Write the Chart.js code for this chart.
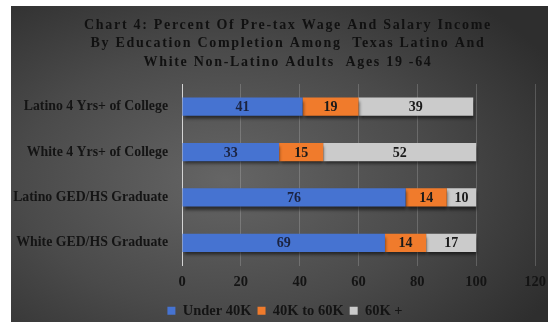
<!DOCTYPE html>
<html>
<head>
<meta charset="utf-8">
<script src="https://cdn.jsdelivr.net/npm/chart.js@4"></script>
<style>
    body { margin: 0; background: #fff; }
    #wrap {
        position: absolute; left: 11px; top: 6px; width: 537px; height: 316px;
        background: radial-gradient(ellipse 70% 75% at 40% 55%, #656565 0%, #4a4a4a 55%, #2e2e2e 100%);
    }
</style>
</head>
<body>
<div id="wrap"><canvas id="incomeChart" width="537" height="316"></canvas></div>
<script>
const categories = ['Latino 4 Yrs+ of College', 'White 4 Yrs+ of College', 'Latino GED/HS Graduate', 'White GED/HS Graduate'];
const under40k = [41, 33, 76, 69];
const from40to60k = [19, 15, 14, 14];
const over60k = [39, 52, 10, 17];
const titleLines = [
    'Chart 4: Percent Of Pre-tax Wage And Salary Income',
    'By Education Completion Among  Texas Latino And',
    'White Non-Latino Adults  Ages 19 -64'
];
const serif = '"Liberation Serif", "Times New Roman", serif';

// bars have a soft drop shadow in the original
const barShadow = {
    id: 'barShadow',
    beforeDatasetsDraw(chart) {
        const ctx = chart.ctx;
        ctx.save();
        ctx.shadowColor = 'rgba(0,0,0,0.55)';
        ctx.shadowBlur = 3;
        ctx.shadowOffsetY = 3;
        ctx.shadowOffsetX = 1;
    },
    afterDatasetsDraw(chart) {
        chart.ctx.restore();
    }
};

// values printed in the middle of each segment
const segmentLabels = {
    id: 'segmentLabels',
    afterDatasetsDraw(chart) {
        const ctx = chart.ctx;
        ctx.save();
        ctx.font = 'bold 14px ' + serif;
        ctx.textAlign = 'center';
        ctx.textBaseline = 'middle';
        chart.data.datasets.forEach((ds, i) => {
            chart.getDatasetMeta(i).data.forEach((bar, j) => {
                ctx.fillStyle = i === 0 ? '#1b2340' : '#1a1a1a';
                ctx.fillText(ds.data[j], (bar.x + bar.base) / 2, bar.y + 1);
            });
        });
        ctx.restore();
    }
};

// spaced-out title, drawn by hand
const spacedTitle = {
    id: 'spacedTitle',
    afterDraw(chart) {
        const ctx = chart.ctx;
        ctx.save();
        ctx.font = 'bold 14px ' + serif;
        ctx.letterSpacing = '1.7px';
        ctx.fillStyle = '#111';
        ctx.textAlign = 'center';
        ctx.textBaseline = 'middle';
        titleLines.forEach((line, i) => {
            ctx.fillText(line, 277, 19 + i * 18.5);
        });
        ctx.restore();
    }
};

// legend sits a little right of centre in the original
const legendNudge = {
    id: 'legendNudge',
    afterLayout(chart) {
        chart.legend.left += 11;
        chart.legend.right += 11;
    }
};

const ctx = document.getElementById('incomeChart').getContext('2d');
new Chart(ctx, {
    type: 'bar',
    data: {
        labels: categories,
        datasets: [
            { label: 'Under 40K', data: under40k, backgroundColor: '#4673d1' },
            { label: '40K to 60K', data: from40to60k, backgroundColor: '#f07b2c' },
            { label: '60K +', data: over60k, backgroundColor: '#cbcbcb' }
        ]
    },
    options: {
        indexAxis: 'y',
        responsive: false,
        animation: false,
        categoryPercentage: 0.4,
        barPercentage: 1,
        layout: { padding: { top: 78, left: 2, right: 13, bottom: -6 } },
        scales: {
            x: {
                stacked: true,
                min: 0,
                max: 120,
                ticks: {
                    stepSize: 20,
                    padding: 8,
                    color: '#141414',
                    font: { family: serif, size: 14.5, weight: 'bold' }
                },
                grid: {
                    drawTicks: false,
                    color: ctx => ctx.index === 0 ? '#d4d4d4' : 'rgba(255,255,255,0.18)'
                },
                border: { display: false },
                afterFit: scale => {
                    scale.height = 32;
                    scale.paddingLeft = 0;
                    scale.paddingRight = 0;
                }
            },
            y: {
                stacked: true,
                ticks: {
                    padding: 14,
                    color: '#141414',
                    font: { family: serif, size: 13.8, weight: 'bold' }
                },
                grid: { display: false, drawTicks: false },
                border: { display: true, color: '#d4d4d4' },
                afterFit: scale => {
                    scale.width = 169;
                    scale.paddingTop = 0;
                    scale.paddingBottom = 0;
                }
            }
        },
        plugins: {
            title: { display: false },
            tooltip: { enabled: false },
            legend: {
                position: 'bottom',
                labels: {
                    boxWidth: 8,
                    boxHeight: 8,
                    padding: 6,
                    color: '#141414',
                    font: { family: serif, size: 14.5, weight: 'bold' }
                }
            }
        }
    },
    plugins: [barShadow, segmentLabels, spacedTitle, legendNudge]
});
</script>
</body>
</html>
